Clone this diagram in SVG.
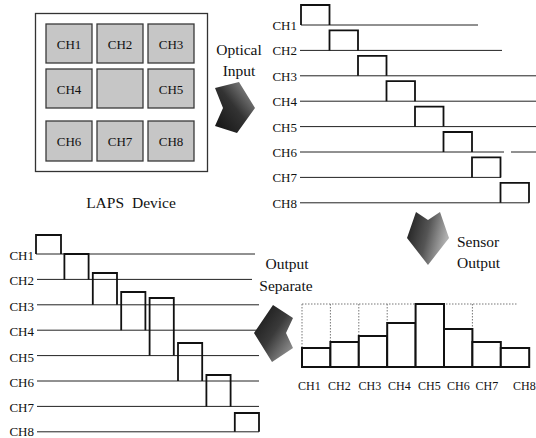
<svg xmlns="http://www.w3.org/2000/svg" width="536" height="438" viewBox="0 0 536 438" font-family="Liberation Serif, serif">
<style>
text{font-family:'Liberation Serif',serif;fill:#111}
.lbl{font-size:15.5px}
.ch{font-size:13px}
.chs{font-size:12px}
.cell{fill:#c6c6c6;stroke:#3a3a3a;stroke-width:1.3}
.ln{stroke:#222;stroke-width:1;fill:none}
.pl{stroke:#111;stroke-width:1.8;fill:none;stroke-linejoin:miter}
.bar{stroke:#111;stroke-width:2;fill:#fff}
.dot{stroke:#777;stroke-width:1;stroke-dasharray:1.5 1.5;fill:none}
.arw{stroke:none}
</style>
<defs>
<linearGradient id="gR" x1="0" y1="1" x2="1" y2="0">
<stop offset="0" stop-color="#111"/><stop offset="0.5" stop-color="#333"/><stop offset="1" stop-color="#a0a0a0"/>
</linearGradient>
<linearGradient id="gD" x1="0" y1="0" x2="1" y2="0.3">
<stop offset="0" stop-color="#1a1a1a"/><stop offset="0.55" stop-color="#555"/><stop offset="1" stop-color="#b0b0b0"/>
</linearGradient>
<linearGradient id="gL" x1="0" y1="0" x2="1" y2="1">
<stop offset="0" stop-color="#111"/><stop offset="0.5" stop-color="#3a3a3a"/><stop offset="1" stop-color="#a8a8a8"/>
</linearGradient>
</defs>

<g id="laps-device">
<rect x="35.5" y="13.5" width="172" height="158" fill="#fff" stroke="#333" stroke-width="1.3"/>
<rect class="cell" x="46" y="24" width="46" height="39"/>
<rect class="cell" x="97" y="24" width="46" height="39"/>
<rect class="cell" x="148" y="24" width="46" height="39"/>
<rect class="cell" x="46" y="69" width="46" height="39"/>
<rect class="cell" x="97" y="69" width="46" height="39"/>
<rect class="cell" x="148" y="69" width="46" height="39"/>
<rect class="cell" x="46" y="121" width="46" height="40"/>
<rect class="cell" x="97" y="121" width="46" height="40"/>
<rect class="cell" x="148" y="121" width="46" height="40"/>
<g class="ch" text-anchor="middle">
<text x="69" y="48.5">CH1</text>
<text x="120" y="48.5">CH2</text>
<text x="171" y="48.5">CH3</text>
<text x="69" y="93.5">CH4</text>
<text x="171" y="93.5">CH5</text>
<text x="69" y="146">CH6</text>
<text x="120" y="146">CH7</text>
<text x="171" y="146">CH8</text>
</g>
<text class="lbl" x="131" y="208" text-anchor="middle" word-spacing="4">LAPS Device</text>
</g>

<g id="optical-input">
<text class="lbl" x="239" y="55" text-anchor="middle">Optical</text>
<text class="lbl" x="239" y="76" text-anchor="middle">Input</text>
</g>

<g id="input-timing">
<g class="ch" text-anchor="end">
<text x="297" y="30">CH1</text>
<text x="297" y="55.4">CH2</text>
<text x="297" y="80.8">CH3</text>
<text x="297" y="106.2">CH4</text>
<text x="297" y="131.6">CH5</text>
<text x="297" y="157">CH6</text>
<text x="297" y="182.4">CH7</text>
<text x="297" y="207.8">CH8</text>
</g>
<path class="ln" d="M301 25H478 M300 50.4H502 M300 75.8H536 M300 101.2H536 M300 126.6H536 M300 152H504 M511 152H536 M300 177.4H501 M300 202.8H529"/>
<path class="pl" d="M301 25V5H329.5V25 M329.5 50.4V30.4H358V50.4 M358 75.8V55.8H386.5V75.8 M386.5 101.2V81.2H415V101.2 M415 126.6V106.6H443.5V126.6 M443.5 152V132H472V152 M472 177.4V157.4H500.5V177.4 M500.5 202.8V182.8H529V202.8"/>
</g>

<g id="sensor-output-label">
<text class="lbl" x="457" y="247">Sensor</text>
<text class="lbl" x="457" y="268">Output</text>
</g>

<g id="sensor-output-chart">
<path class="dot" d="M302 304H518 M302 304V348 M330.4 304V342 M358.8 304V336 M387.2 304V323 M472.4 304V329"/>
<rect class="bar" x="302" y="348" width="28.4" height="19"/>
<rect class="bar" x="330.4" y="342" width="28.4" height="25"/>
<rect class="bar" x="358.8" y="336" width="28.4" height="31"/>
<rect class="bar" x="387.2" y="323" width="28.4" height="44"/>
<rect class="bar" x="415.6" y="304" width="28.4" height="63"/>
<rect class="bar" x="444" y="329" width="28.4" height="38"/>
<rect class="bar" x="472.4" y="342" width="28.4" height="25"/>
<rect class="bar" x="500.8" y="348" width="28.4" height="19"/>
<g class="chs">
<text x="298" y="390">CH1</text>
<text x="328" y="390">CH2</text>
<text x="358.5" y="390">CH3</text>
<text x="388" y="390">CH4</text>
<text x="418" y="390">CH5</text>
<text x="447" y="390">CH6</text>
<text x="475.5" y="390">CH7</text>
<text x="513" y="390">CH8</text>
</g>
</g>

<g id="output-separate-label">
<text class="lbl" x="287" y="269" text-anchor="middle">Output</text>
<text class="lbl" x="286" y="291" text-anchor="middle">Separate</text>
</g>

<g id="output-timing">
<g class="ch" text-anchor="end">
<text x="34" y="260">CH1</text>
<text x="34" y="285.4">CH2</text>
<text x="34" y="310.8">CH3</text>
<text x="34" y="336.2">CH4</text>
<text x="34" y="361.6">CH5</text>
<text x="34" y="387">CH6</text>
<text x="34" y="412">CH7</text>
<text x="34" y="435.5">CH8</text>
</g>
<path class="ln" d="M36 254H255 M37 279.4H252 M37 304.8H259 M37 330.2H259 M37 355.6H259 M37 381H259 M37 406.4H259 M37 431.8H259"/>
<path class="pl" d="M36 254V235H61V254 M64.4 279.4V254H88.6V279.4 M92.8 304.8V273H117V304.8 M121.2 330.2V292H145.4V330.2 M149.6 355.6V298H173.8V355.6 M178 381V343H202.2V381 M206.4 406.4V375H230.6V406.4 M234.8 431.8V413H259V431.8"/>
</g>

<g id="connectors">
<path id="arrow-optical" class="arw" fill="url(#gR)" d="M215 88L239 82L255 108L237 133L215 126L223 108Z"/>
<path id="arrow-sensor" class="arw" fill="url(#gD)" d="M416 212L407 238L428 265L449 238L440 212L428 220Z"/>
<path id="arrow-separate" class="arw" fill="url(#gL)" d="M273 305L254 333L272 362L293 348L286 333L293 318Z"/>
</g>
</svg>
